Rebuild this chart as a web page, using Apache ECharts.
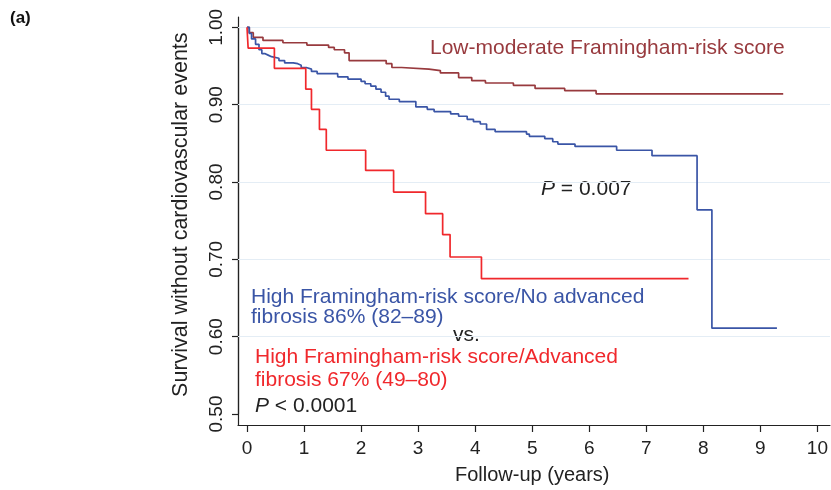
<!DOCTYPE html>
<html><head><meta charset="utf-8">
<script src="https://cdn.jsdelivr.net/npm/echarts@6/dist/echarts.min.js"></script>
<style>html,body{margin:0;padding:0;background:#fff}#c{width:831px;height:490px}</style>
</head><body><div id="c"></div>
<script>
// ---- data (Kaplan-Meier step points: time in years, survival after the step) ----
const lowTimes = [0, 0.04, 0.11, 0.28, 0.63, 1.05, 1.43, 1.53, 1.71, 1.79, 2.44, 2.54, 2.71, 3.19, 3.39, 3.71, 3.94, 4.18, 4.67, 5.05, 5.57, 6.12, 9.40];
const lowSurv  = [1.0, 0.993, 0.987, 0.983, 0.980, 0.977, 0.974, 0.971, 0.967, 0.957, 0.953, 0.948, 0.946, 0.944, 0.941, 0.935, 0.931, 0.928, 0.925, 0.921, 0.918, 0.914, 0.914];

const noFibTimes = [0, 0.04, 0.08, 0.15, 0.21, 0.26, 0.31, 0.37, 0.43, 0.56, 0.66, 0.81, 0.89, 0.95, 1.04, 1.13, 1.23, 1.59, 1.77, 2.00, 2.07, 2.17, 2.26, 2.35, 2.43, 2.49, 2.67, 2.96, 3.16, 3.28, 3.57, 3.71, 3.86, 3.97, 4.09, 4.20, 4.35, 4.90, 4.95, 5.22, 5.36, 5.45, 5.75, 6.48, 7.10, 7.89, 8.15, 9.29];
const noFibSurv  = [1.0, 0.992, 0.985, 0.978, 0.971, 0.966, 0.964, 0.962, 0.960, 0.957, 0.954, 0.953, 0.951, 0.948, 0.946, 0.943, 0.940, 0.936, 0.933, 0.930, 0.927, 0.924, 0.920, 0.916, 0.911, 0.907, 0.904, 0.897, 0.894, 0.891, 0.888, 0.885, 0.881, 0.878, 0.875, 0.868, 0.865, 0.862, 0.859, 0.856, 0.852, 0.849, 0.846, 0.841, 0.834, 0.764, 0.611, 0.611];

const advFibTimes = [0, 0.02, 0.48, 1.03, 1.13, 1.27, 1.39, 2.08, 2.57, 3.13, 3.43, 3.56, 4.11, 7.74];
const advFibSurv  = [1.0, 0.973, 0.947, 0.920, 0.894, 0.868, 0.841, 0.815, 0.787, 0.759, 0.732, 0.703, 0.675, 0.675];

const xTicks = [0, 1, 2, 3, 4, 5, 6, 7, 8, 9, 10];
const yTickLabels = ['0.50', '0.60', '0.70', '0.80', '0.90', '1.00'];
const gridValues = [0.6, 0.7, 0.8, 0.9, 1.0];

// ---- styles ----
const FONT = '"Liberation Sans", Arial, Helvetica, sans-serif';
const C_LOW = '#983a3e', C_BLUE = '#3a55a6', C_RED = '#f0282c', C_TXT = '#222222';

const pairs = (t, s) => t.map((v, i) => [v, s[i]]);

const chart = echarts.init(document.getElementById('c'), null, {renderer: 'canvas'});

const stepSeries = (name, t, s, color) => ({
  name, type: 'line', step: 'end', xAxisIndex: 0, yAxisIndex: 0,
  data: pairs(t, s), symbol: 'none', clip: false, z: 5,
  lineStyle: {color, width: 1.7}, itemStyle: {color}, animation: false
});

const txt = (x, y, text, color, extra) => Object.assign({
  type: 'text', x, y, silent: true,
  style: Object.assign({text, fill: color, font: '21px ' + FONT, verticalAlign: 'middle', align: 'left'}, extra || {})
});

chart.setOption({
  animation: false,
  backgroundColor: '#ffffff',
  grid: [
    {left: 247, right: 10, top: 27.3, bottom: 76, containLabel: false},
    {left: 238, right: 1, top: 17, bottom: 65, containLabel: false}
  ],
  xAxis: [
    {
      gridIndex: 0, type: 'value', min: 0, max: 10, interval: 1, offset: 11,
      axisLine: {show: true, onZero: false, lineStyle: {color: C_TXT, width: 1.2}},
      axisTick: {show: true, length: 7, lineStyle: {color: C_TXT, width: 1.2}},
      axisLabel: {color: C_TXT, fontSize: 19, fontFamily: FONT, margin: 14,
                  formatter: v => String(xTicks[xTicks.indexOf(v)])},
      splitLine: {show: false},
      name: 'Follow-up (years)', nameLocation: 'middle', nameGap: 40,
      nameTextStyle: {color: C_TXT, fontSize: 20, fontFamily: FONT}
    },
    {
      gridIndex: 1, type: 'value', min: -0.1568, max: 10.157,
      axisLine: {show: true, onZero: false, lineStyle: {color: C_TXT, width: 1.2}},
      axisTick: {show: false}, axisLabel: {show: false}, splitLine: {show: false}
    }
  ],
  yAxis: [
    {
      gridIndex: 0, type: 'value', min: 0.5, max: 1.0, interval: 0.1, offset: 9,
      axisLine: {show: true, onZero: false, lineStyle: {color: C_TXT, width: 1.2}},
      axisTick: {show: true, length: 6, lineStyle: {color: C_TXT, width: 1.2}},
      axisLabel: {color: C_TXT, fontSize: 19, fontFamily: FONT, rotate: 90, margin: 12,
                  formatter: v => yTickLabels[Math.round((v - 0.5) * 10)]},
      splitLine: {show: false},
      name: 'Survival without cardiovascular events', nameLocation: 'middle', nameRotate: 90, nameGap: 46,
      nameTextStyle: {color: C_TXT, fontSize: 21.5, fontFamily: FONT, padding: [0, 0, 0, 12]}
    },
    {
      gridIndex: 1, type: 'value', min: 0.48579, max: 1.01331,
      axisLine: {show: true, onZero: false, lineStyle: {color: C_TXT, width: 1.2}},
      axisTick: {show: false}, axisLabel: {show: false}, splitLine: {show: false}
    }
  ],
  series: [
    {
      name: 'grid', type: 'line', xAxisIndex: 1, yAxisIndex: 1, data: [], symbol: 'none', z: 1,
      markLine: {
        silent: true, symbol: ['none', 'none'], label: {show: false}, animation: false,
        lineStyle: {color: '#e4edf5', type: 'solid', width: 1.2},
        data: gridValues.map(v => ({yAxis: v}))
      }
    },
    stepSeries('Low-moderate Framingham-risk score', lowTimes, lowSurv, C_LOW),
    stepSeries('High Framingham-risk score/No advanced fibrosis', noFibTimes, noFibSurv, C_BLUE),
    stepSeries('High Framingham-risk score/Advanced fibrosis', advFibTimes, advFibSurv, C_RED)
  ],
  graphic: [
    txt(10, 18, '(a)', '#111111', {font: 'bold 17px ' + FONT}),
    txt(430, 48, 'Low-moderate Framingham-risk score', C_LOW),
    txt(541, 189, '{i|P} = 0.007', C_TXT, {rich: {i: {fontStyle: 'italic', fontSize: 21, fontFamily: FONT, fill: C_TXT}}}),
    txt(251, 297, 'High Framingham-risk score/No advanced', C_BLUE),
    txt(251, 317, 'fibrosis 86% (82–89)', C_BLUE),
    txt(453, 335, 'vs.', C_TXT),
    txt(255, 357, 'High Framingham-risk score/Advanced', C_RED),
    txt(255, 380, 'fibrosis 67% (49–80)', C_RED),
    txt(255, 406, '{i|P} < 0.0001', C_TXT, {rich: {i: {fontStyle: 'italic', fontSize: 21, fontFamily: FONT, fill: C_TXT}}})
  ]
});
</script>
</body></html>
